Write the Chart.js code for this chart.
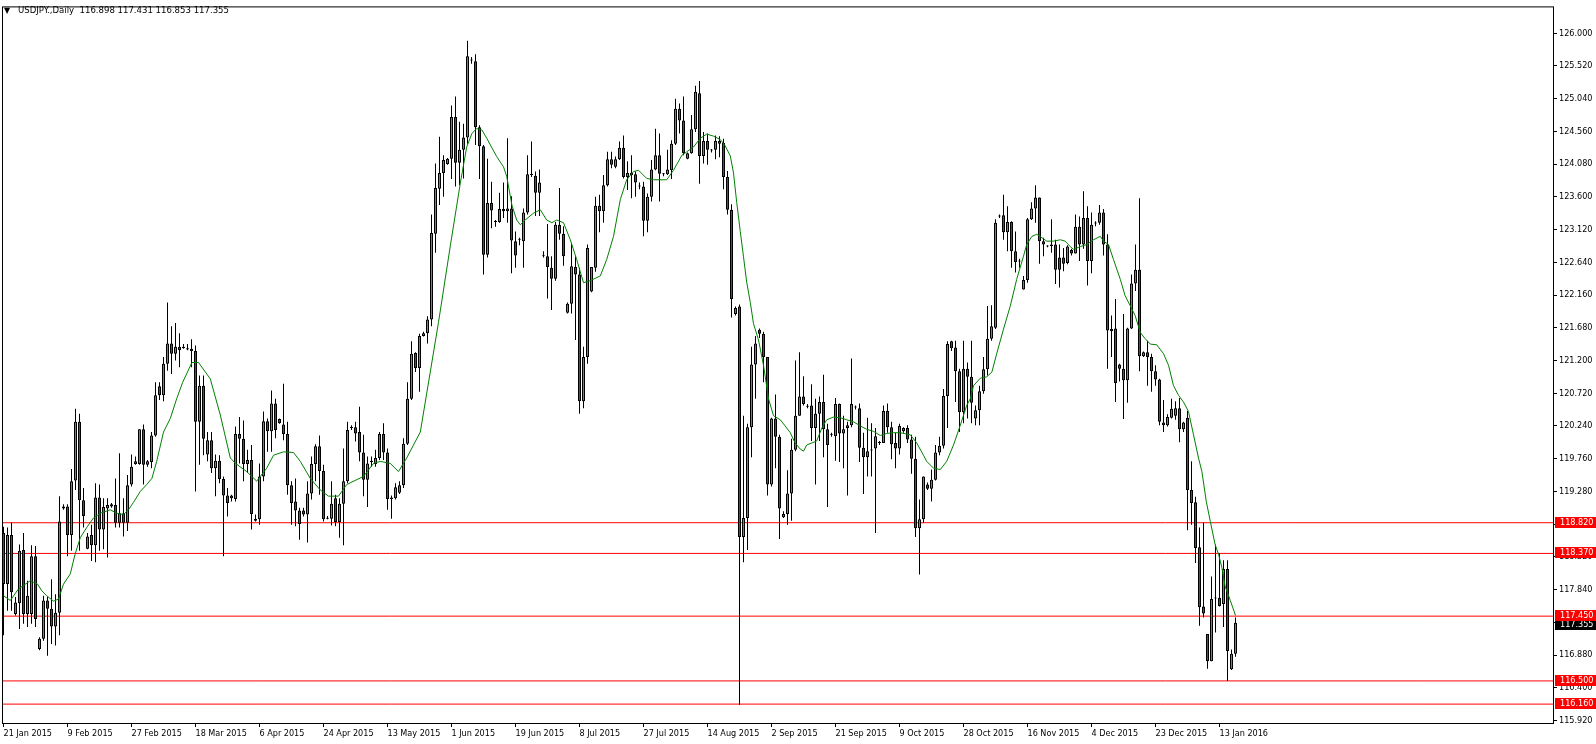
<!DOCTYPE html>
<html><head><meta charset="utf-8">
<script src="https://cdn.jsdelivr.net/npm/chart.js@4.4.1/dist/chart.umd.min.js"></script>
<style>html,body{margin:0;padding:0;background:#fff;}canvas{display:block;}</style>
</head><body>
<canvas id="c" width="1596" height="744"></canvas>
<script>
const chartTitle = "USDJPY.,Daily  116.898 117.431 116.853 117.355";

const openP = [
118.67,117.92,118.64,117.48,117.64,118.42,117.48,117.48,118.33,116.97,
117.12,117.68,117.56,117.30,117.50,119.03,119.06,118.64,119.44,120.30,
119.15,118.44,118.64,118.49,119.19,118.72,119.03,119.06,119.08,118.82,
118.96,118.82,119.38,119.68,119.68,120.19,119.67,119.71,120.10,120.82,
120.69,121.15,121.45,121.30,121.40,121.38,121.38,121.37,121.34,120.30,
120.83,119.82,120.03,119.62,119.73,119.46,119.22,119.22,119.17,120.12,
120.05,119.68,119.74,118.88,118.87,119.50,120.31,120.16,120.57,120.34,
120.26,120.12,119.37,119.13,119.00,119.00,118.94,119.25,119.68,119.94,
119.58,118.88,118.88,119.18,118.83,119.10,119.43,120.21,120.22,120.15,
119.85,119.45,119.71,119.68,119.77,120.12,119.85,119.19,119.18,119.26,
119.37,119.98,120.64,121.31,121.09,121.56,121.60,121.80,123.06,123.72,
123.95,124.08,124.16,124.77,124.10,124.29,124.47,125.60,125.59,124.62,
124.34,122.75,123.51,123.23,123.23,123.42,123.39,123.43,122.95,122.97,
122.95,123.37,123.92,123.91,123.66,122.73,122.73,122.56,122.40,123.19,
123.06,121.90,122.03,122.57,122.46,120.60,121.25,122.21,122.56,123.47,
123.39,123.77,124.15,124.04,124.15,124.32,123.89,123.95,123.93,123.75,
123.75,123.25,123.60,124.00,124.21,123.94,123.93,123.99,124.38,124.89,
124.72,124.16,124.24,124.59,125.12,124.20,124.42,124.29,124.29,124.42,
124.39,123.89,123.41,121.88,121.99,118.61,118.89,120.22,121.14,121.65,
121.59,121.25,119.38,120.35,120.08,118.90,118.95,119.25,119.89,120.39,
120.67,120.52,120.54,120.21,120.42,120.59,120.19,120.11,120.09,120.56,
120.13,120.21,120.25,120.51,120.50,119.92,119.78,119.88,119.91,119.99,
119.99,120.46,120.22,119.99,119.91,120.16,120.21,120.04,119.76,118.74,
118.87,119.38,119.32,119.45,119.85,119.95,120.68,121.48,121.39,121.04,
120.44,121.08,120.96,120.35,120.47,120.75,121.07,121.52,121.68,123.31,
123.33,123.08,123.23,122.80,122.66,122.24,122.38,123.27,123.43,123.59,
122.95,122.88,122.90,122.90,122.71,122.71,122.63,122.82,122.77,123.16,
122.90,123.29,122.66,123.21,123.22,123.37,122.90,121.66,121.67,121.14,
121.08,120.91,121.67,122.33,122.53,121.26,121.32,121.25,121.04,120.92,
120.29,120.25,120.36,120.39,120.50,120.19,120.36,119.30,119.12,118.46,
117.59,117.19,116.79,117.71,117.72,117.63,118.14,116.67,116.898];

const highP = [
118.76,118.75,118.82,117.73,118.50,118.67,117.97,118.49,118.48,117.14,
117.75,117.73,117.99,117.77,119.21,119.09,119.09,119.61,120.49,120.42,
119.33,118.67,118.79,119.40,119.38,119.18,119.18,119.11,119.47,119.84,
119.18,119.52,119.82,119.79,120.19,120.26,119.74,120.15,120.88,120.88,
121.25,122.05,121.70,121.75,121.60,121.44,121.44,121.51,121.42,120.98,
120.98,120.15,120.15,119.82,119.81,119.50,119.33,119.23,120.23,120.37,
120.32,119.89,119.96,118.94,119.69,120.45,120.35,120.76,120.64,120.35,
120.86,120.30,119.43,119.47,119.04,119.04,119.43,119.79,119.97,120.10,
119.67,118.92,119.43,119.23,119.18,119.91,120.30,120.25,120.30,120.52,
120.11,119.79,119.79,119.89,120.15,120.28,119.91,119.22,119.40,119.43,
120.06,120.88,121.48,121.32,121.59,121.62,121.85,123.34,124.09,124.48,
124.21,124.17,124.94,125.07,124.70,124.67,125.89,125.65,125.69,124.65,
124.36,124.16,123.82,123.26,123.66,123.81,124.46,123.61,123.09,123.00,
123.43,124.21,124.41,123.97,124.00,122.80,123.20,122.73,123.23,123.73,
123.17,122.05,122.92,122.73,122.56,121.40,122.90,122.57,123.60,123.63,
123.92,124.26,124.26,124.19,124.41,124.50,124.12,124.21,123.97,123.81,
123.82,123.65,124.14,124.60,124.53,123.95,124.29,124.43,125.04,124.97,
125.07,124.25,124.80,125.23,125.30,124.55,124.53,124.30,124.50,124.49,
124.45,123.98,123.49,121.99,122.02,120.39,120.27,121.40,121.56,121.67,
121.62,121.25,120.36,120.70,120.11,118.99,119.59,120.05,121.20,121.32,
120.97,120.56,120.85,120.64,120.67,120.99,120.27,120.14,120.65,120.57,
120.39,120.30,121.23,120.54,120.57,120.14,120.36,120.28,120.21,120.02,
120.54,120.57,120.30,120.14,120.27,120.22,120.25,120.11,120.08,119.16,
119.50,119.41,119.60,119.96,120.08,120.78,121.48,121.49,121.49,121.08,
121.49,121.17,121.49,120.54,120.83,121.25,122.00,122.01,123.27,123.34,
123.63,123.46,123.24,123.09,122.69,122.44,123.29,123.52,123.77,123.59,
123.00,122.89,123.27,122.97,122.90,122.85,122.89,122.84,123.34,123.31,
123.68,123.46,123.37,123.24,123.48,123.42,123.05,121.86,122.10,121.15,
121.88,121.68,122.46,122.90,123.58,121.33,121.49,121.30,121.13,120.93,
120.62,120.41,120.64,120.60,120.65,120.30,120.46,119.72,119.20,118.75,
118.82,117.19,118.03,118.50,118.37,118.27,118.27,116.96,117.431];

const lowP = [
117.17,117.53,117.53,117.46,117.26,117.34,117.29,117.34,117.29,116.95,
117.09,116.87,117.04,117.02,117.17,119.01,118.33,118.41,119.30,118.41,
118.75,118.43,118.26,118.24,118.41,118.43,118.31,119.04,118.75,118.75,
118.62,118.70,119.35,119.67,119.67,119.38,119.64,119.62,120.08,120.62,
120.60,121.05,121.00,121.20,121.10,121.37,121.35,121.10,119.28,119.67,
119.81,119.72,119.55,119.21,119.40,118.33,118.91,119.13,119.13,119.69,
119.43,119.55,118.72,118.84,118.79,119.43,119.86,119.86,120.06,120.27,
120.03,119.23,118.79,118.77,118.57,118.91,118.53,119.16,119.43,119.23,
118.84,118.87,118.78,118.77,118.60,118.49,119.40,120.18,120.01,119.72,
119.21,119.05,119.64,119.64,119.74,119.74,119.01,118.88,119.16,119.24,
119.33,119.96,120.62,121.03,120.74,121.55,121.45,121.70,122.78,123.48,
123.60,124.07,123.86,123.75,123.77,123.87,124.38,125.55,124.36,123.86,
122.46,122.71,123.14,123.16,123.22,123.29,123.22,122.48,122.56,122.89,
122.56,123.34,123.89,123.32,123.32,122.71,122.11,121.94,122.37,122.97,
122.59,121.89,121.89,121.50,120.42,120.50,121.15,122.20,122.50,123.08,
123.22,123.75,124.02,124.02,124.14,123.87,123.70,123.58,123.60,123.71,
123.02,123.08,123.53,123.99,123.53,123.90,123.92,123.86,124.36,124.53,
124.21,124.15,124.23,124.55,123.79,124.09,124.07,124.25,124.15,124.18,
123.71,123.34,121.83,121.86,116.15,118.24,118.42,119.78,120.64,121.53,
120.88,119.22,119.35,119.62,118.58,118.89,118.79,118.85,119.87,120.39,
120.54,120.50,120.02,119.38,120.02,119.78,119.05,120.08,119.73,119.71,
119.62,119.22,120.22,120.48,119.71,119.24,119.50,119.50,118.67,119.96,
119.99,120.14,119.75,119.62,119.82,120.14,119.99,119.54,118.61,118.06,
118.82,119.30,119.13,119.44,119.81,119.91,120.21,121.34,120.59,120.15,
120.28,120.35,120.28,120.25,120.25,120.71,120.98,121.49,121.66,123.29,
122.97,122.80,122.56,122.49,122.56,122.24,122.34,123.26,123.22,122.62,
122.73,122.86,122.78,122.32,122.27,122.51,122.61,122.74,122.77,122.66,
122.84,122.30,122.48,123.17,123.19,122.74,121.08,121.25,120.59,120.89,
120.34,120.58,121.66,122.22,121.04,121.25,120.83,120.74,120.83,120.25,
120.15,120.23,120.35,120.33,120.00,120.15,118.71,118.79,118.23,117.31,
117.43,116.68,116.79,117.21,117.59,117.29,116.50,116.66,116.853];

const closeP = [
117.92,118.64,117.80,117.65,118.41,117.48,117.75,118.33,117.41,117.12,
117.68,117.56,117.30,117.50,118.84,119.06,118.64,119.43,120.30,119.15,
118.92,118.62,118.49,119.19,118.72,119.05,119.08,119.09,118.82,118.96,
118.82,119.37,119.64,119.72,120.19,119.67,119.72,120.10,120.69,120.69,
121.15,121.45,121.30,121.40,121.35,121.40,121.36,121.34,120.30,120.83,
120.05,120.03,119.62,119.73,119.46,119.22,119.11,119.18,120.12,120.05,
119.68,119.74,118.95,118.85,119.50,120.31,120.16,120.57,120.18,120.28,
120.12,119.37,119.11,119.00,118.80,118.94,119.25,119.68,119.94,119.58,
118.87,118.89,119.10,118.83,119.10,119.43,120.18,120.22,120.13,119.85,
119.45,119.69,119.73,119.77,120.12,119.85,119.17,119.17,119.34,119.37,
119.98,120.64,121.30,121.09,121.56,121.60,121.80,123.07,123.73,123.95,
124.14,124.16,124.77,124.10,124.29,124.47,125.66,125.61,124.62,124.34,
122.75,123.51,123.40,123.24,123.42,123.39,123.43,122.96,122.74,122.98,
123.37,123.93,123.93,123.66,123.81,122.74,122.57,122.40,123.19,123.06,
122.73,122.03,122.58,122.46,120.60,121.25,122.85,122.57,123.47,123.39,
123.77,124.15,124.07,124.15,124.32,123.89,123.95,123.92,123.81,123.76,
123.25,123.60,124.00,124.21,123.94,123.93,124.00,124.38,124.89,124.72,
124.24,124.24,124.59,125.14,124.20,124.42,124.29,124.28,124.42,124.38,
123.89,123.41,122.10,121.97,118.61,118.89,120.22,121.14,121.45,121.59,
121.25,119.38,120.35,120.08,119.03,118.95,119.25,119.89,120.39,120.67,
120.56,120.53,120.21,120.42,120.59,120.19,119.96,120.12,120.56,120.13,
120.19,120.25,120.56,120.52,119.92,119.78,119.87,119.89,120.09,120.00,
120.46,120.22,119.97,119.91,120.24,120.21,120.04,119.76,118.74,118.87,
119.50,119.32,119.45,119.85,119.95,120.68,121.44,121.38,121.04,120.44,
121.08,120.96,120.58,120.47,120.75,121.07,121.52,121.70,123.22,123.32,
123.08,123.23,122.80,122.64,122.65,122.38,123.27,123.43,123.59,122.95,
122.90,122.87,122.88,122.53,122.53,122.62,122.87,122.77,123.16,122.90,
123.29,122.66,123.19,123.22,123.37,122.90,121.64,121.63,120.87,121.08,
120.91,121.67,122.33,122.53,121.26,121.32,121.25,121.04,120.92,120.30,
120.25,120.37,120.49,120.50,120.19,120.29,119.30,119.11,118.45,117.58,
117.49,116.79,117.70,117.72,117.60,118.14,116.94,116.90,117.355];

// moving-average line: bar position / value
const maIdx = [0,1.7,3.75,5,6.7,8.5,9.6,10.8,12.5,13.75,15,16.7,17.9,19.2,20.8,22.5,24.2,26.7,28.3,30,31.25,32.5,34.2,35.8,37.1,38.3,40,41.7,43.3,44.8,47.1,48.75,51.7,54.2,56.7,58,60.8,63.3,65.8,67.5,70,72.5,74.2,76.7,79.2,81.25,83.75,85.8,90,92.5,94.2,96.7,98.75,100.8,104.2,108.75,111.7,114.2,115.8,117.1,118.3,119.6,120.8,123.3,125,125.8,127.1,128.3,129.2,130.4,132.5,134.2,135.8,137.1,138.3,140,141.7,143.3,145,146.7,149.2,150.8,152.5,154.2,155.8,157.5,158.75,160.8,162.5,165.8,167.5,169.6,170.8,172.5,174.2,175.8,177.5,179.2,180.4,181.7,182.5,183.3,184.2,185,185.8,186.7,187.5,188.75,190,191.25,192.5,194.2,195.4,196.7,197.9,199.2,200,200.8,202.1,203.3,204.6,205.8,207.5,209.2,210.8,212.5,214.2,215.8,217.5,219.2,220.8,222.5,224.2,226.7,228.3,230,230.8,232.5,234.2,235.8,237.5,239.2,240.8,241.7,242.5,244.2,245.8,247.1,248.3,250,251.7,253.3,255,255.8,257.1,258.3,259.6,260.8,262.5,264.2,265.4,266.7,267.5,269.2,270.8,272.5,274.2,275,276.25,277.5,279.2,280.4,281.7,282.9,284.2,285.4,286.7,288.3,290,291.25,292.5,293.75,295,296.25,297.5,298.75,299.6,300.7,301.7,302.9,303.75,304.6,305.4,306.7,308];
const maVal = [117.75,117.68,117.85,117.90,117.97,117.92,117.82,117.75,117.67,117.70,117.92,118.07,118.36,118.60,118.75,118.89,118.96,119.01,118.96,118.94,119.01,119.12,119.28,119.38,119.47,119.72,120.15,120.35,120.64,120.88,121.17,121.17,120.93,120.40,119.77,119.69,119.57,119.43,119.62,119.81,119.86,119.85,119.72,119.47,119.30,119.21,119.21,119.38,119.50,119.69,119.72,119.69,119.57,119.77,120.15,121.76,122.88,123.80,124.33,124.53,124.60,124.58,124.46,124.19,124.04,123.90,123.48,123.26,123.19,123.26,123.36,123.41,123.26,123.22,123.26,123.22,122.97,122.68,122.34,122.37,122.44,122.68,123.02,123.56,123.85,123.97,123.99,123.87,123.85,123.85,123.99,124.21,124.26,124.33,124.46,124.52,124.49,124.44,124.35,124.20,123.95,123.52,123.09,122.72,122.35,122.05,121.74,121.50,121.13,120.64,120.39,120.33,120.24,120.14,119.99,119.90,119.87,119.96,119.99,120.02,120.21,120.33,120.37,120.36,120.33,120.30,120.24,120.19,120.16,120.10,120.13,120.14,120.14,120.11,119.99,119.81,119.72,119.62,119.60,119.72,119.96,120.25,120.54,120.64,120.83,120.94,120.96,121.03,121.30,121.66,122.00,122.39,122.73,122.90,123.02,123.05,123.00,122.95,122.95,122.97,122.95,122.87,122.83,122.87,122.90,122.97,123.02,122.95,122.90,122.68,122.39,122.15,122.00,121.86,121.61,121.52,121.44,121.43,121.30,121.13,120.83,120.69,120.59,120.45,120.11,119.77,119.57,119.13,118.84,118.50,118.36,118.16,117.89,117.68,117.46];

const levels = [118.82, 118.37, 117.45, 116.50, 116.16];
const lastPrice = 117.355;

const dateTickIdx = [0,16,32,48,64,80,96,112,128,144,160,176,192,208,224,240,256,272,288,304];
const dateLabels = ["21 Jan 2015","9 Feb 2015","27 Feb 2015","18 Mar 2015","6 Apr 2015","24 Apr 2015","13 May 2015","1 Jun 2015","19 Jun 2015","8 Jul 2015","27 Jul 2015","14 Aug 2015","2 Sep 2015","21 Sep 2015","9 Oct 2015","28 Oct 2015","16 Nov 2015","4 Dec 2015","23 Dec 2015","13 Jan 2016"];
const priceTicks = [126.000,125.520,125.040,124.560,124.080,123.600,123.120,122.640,122.160,121.680,121.200,120.720,120.240,119.760,119.280,118.800,118.320,117.840,117.360,116.880,116.400,115.920];

const X_MIN = -0.125, X_MAX = 387.375;
const Y_MIN = 115.883, Y_MAX = 126.378;
const FONT_FAMILY = "'DejaVu Sans Condensed','Liberation Sans',Arial,sans-serif";
const FONT_SIZE = 9;
const BULL = '#2fb52f', BEAR = '#e01414';

const bodies = openP.map((o, i) => ({x: i, y: [o, closeP[i]]}));
const wicks = lowP.map((l, i) => ({x: i, y: [l, highP[i]]}));
const bodyColors = openP.map((o, i) => closeP[i] >= o ? BULL : BEAR);
const maData = maIdx.map((x, k) => ({x, y: maVal[k]}));

const levelSets = levels.map(lv => ({
  type: 'line', data: [{x: X_MIN, y: lv}, {x: X_MAX, y: lv}],
  borderColor: '#ff0000', borderWidth: 1, pointRadius: 0, order: 3, tension: 0
}));

const overlay = {
  id: 'overlay',
  afterDraw(chart) {
    const {ctx, chartArea: a} = chart;
    const y = chart.scales.y;
    ctx.save();
    ctx.strokeStyle = '#000'; ctx.lineWidth = 1;
    ctx.strokeRect(a.left - 0.5, a.top - 0.5, a.right - a.left + 1, a.bottom - a.top + 1);
    ctx.font = FONT_SIZE + 'px ' + FONT_FAMILY;
    ctx.textBaseline = 'middle';
    ctx.textAlign = 'left';
    const boxX = a.right + 2, boxW = chart.width - boxX;
    const drawBox = (v, bg, dy) => {
      const py = Math.round(y.getPixelForValue(v)) + dy;
      ctx.fillStyle = bg;
      ctx.fillRect(boxX, py - 6, boxW, 11);
      ctx.fillStyle = '#ffffff';
      ctx.fillText(v.toFixed(3), a.right + 7, py);
    };
    drawBox(lastPrice, '#000000', 2);
    levels.forEach(v => drawBox(v, '#ff0000', 0));
    ctx.fillStyle = '#000';
    ctx.font = "8px 'DejaVu Sans'";
    ctx.fillText('\u25BC', 4, 11);
    ctx.font = '9.5px ' + FONT_FAMILY;
    ctx.fillText(chartTitle, 18, 11);
    ctx.restore();
  }
};

new Chart(document.getElementById('c'), {
  type: 'bar',
  data: {
    datasets: [
      {type: 'line', data: maData, borderColor: '#008000', borderWidth: 1, pointRadius: 0, tension: 0, order: 0},
      {type: 'bar', data: bodies, backgroundColor: bodyColors, borderColor: '#000', borderWidth: 1,
        borderSkipped: false, barThickness: 3, grouped: false, minBarLength: 1, inflateAmount: 0, order: 1},
      {type: 'bar', data: wicks, backgroundColor: '#000', borderWidth: 0,
        barThickness: 1, grouped: false, inflateAmount: 0, order: 2},
      ...levelSets
    ]
  },
  options: {
    responsive: false, animation: false, devicePixelRatio: 1, events: [],
    layout: {padding: {left: 3, top: 3, right: 0, bottom: 0}},
    plugins: {legend: {display: false}, tooltip: {enabled: false}, title: {display: false}},
    scales: {
      x: {
        type: 'linear', position: 'bottom', min: X_MIN, max: X_MAX, offset: false,
        afterBuildTicks: s => { s.ticks = dateTickIdx.map(v => ({value: v})); },
        afterFit: s => { s.height = 21; },
        ticks: {autoSkip: false, maxRotation: 0, minRotation: 0, align: 'start', padding: 1, color: '#000',
          font: {family: FONT_FAMILY, size: FONT_SIZE},
          callback: (v, i) => dateLabels[i]},
        grid: {drawOnChartArea: false, drawTicks: true, tickLength: 4, tickColor: '#000', offset: false},
        border: {display: true, color: '#000', width: 1}
      },
      y: {
        type: 'linear', position: 'right', min: Y_MIN, max: Y_MAX,
        afterBuildTicks: s => { s.ticks = priceTicks.map(v => ({value: v})); },
        afterFit: s => { s.width = 43; },
        ticks: {padding: 2, color: '#000', font: {family: FONT_FAMILY, size: FONT_SIZE},
          callback: v => Number(v).toFixed(3)},
        grid: {drawOnChartArea: false, drawTicks: true, tickLength: 4, tickColor: '#000'},
        border: {display: true, color: '#000', width: 1}
      }
    }
  },
  plugins: [overlay]
});
</script>
</body></html>
